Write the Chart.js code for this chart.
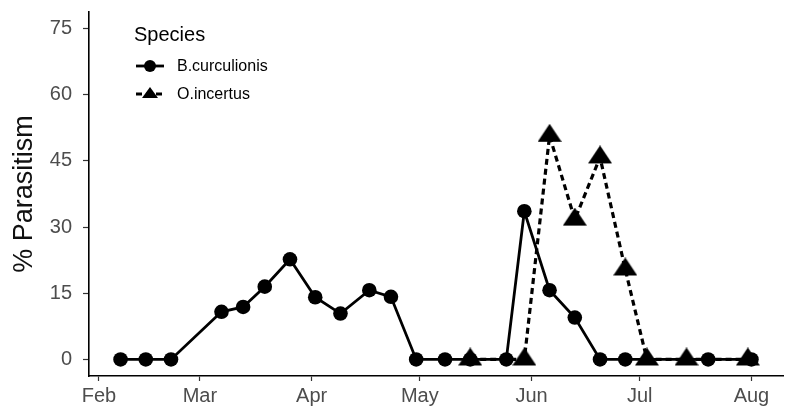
<!DOCTYPE html>
<html>
<head>
<meta charset="utf-8">
<script src="https://cdn.jsdelivr.net/npm/chart.js@4.4.1/dist/chart.umd.min.js"></script>
<style>
  html, body { margin: 0; padding: 0; background: #ffffff; }
  canvas { display: block; }
</style>
</head>
<body>
<canvas id="chart" width="791" height="408"></canvas>
<script>
// Month axis: labels and the first day of each month (MM-DD)
const monthLabels = ['Feb', 'Mar', 'Apr', 'May', 'Jun', 'Jul', 'Aug'];
const monthStarts = ['02-01', '03-01', '04-01', '05-01', '06-01', '07-01', '08-01'];

// Percent parasitism ticks
const yTicks = [0, 15, 30, 45, 60, 75];

// Bathyplectes curculionis samples
const bcDates = ['02-07', '02-14', '02-21', '03-07', '03-13', '03-19', '03-26', '04-02',
                 '04-09', '04-17', '04-23', '04-30', '05-08', '05-15', '05-25', '05-30',
                 '06-06', '06-13', '06-20', '06-27', '07-20', '08-01'];
const bcValues = [0, 0, 0, 10.8, 11.9, 16.5, 22.7, 14.1,
                  10.4, 15.7, 14.2, 0, 0, 0, 0, 33.6,
                  15.7, 9.5, 0, 0, 0, 0];

// Oomyzus incertus samples
const oiDates = ['05-15', '05-30', '06-06', '06-13', '06-20', '06-27', '07-03', '07-14', '07-31'];
const oiValues = [0, 0, 50.7, 31.7, 45.8, 20.4, 0, 0, 0];

const seriesNames = ['B.curculionis', 'O.incertus'];

// day of year (non-leap season)
const cumDays = [0, 31, 59, 90, 120, 151, 181, 212, 243, 273, 304, 334];
function dayOfYear(md) {
  const [m, d] = md.split('-').map(Number);
  return cumDays[m - 1] + d;
}
const monthDays = monthStarts.map(dayOfYear);

function toPoints(dates, values) {
  return dates.map((d, i) => ({ x: dayOfYear(d), y: values[i] }));
}

// Data extents padded by 5% on each side
const allDays = bcDates.concat(oiDates).map(dayOfYear);
const dMin = Math.min(...allDays), dMax = Math.max(...allDays);
const xPad = (dMax - dMin) * 0.05;
const yLo = 0, yHi = 75, yPad = (yHi - yLo) * 0.05;

// Filled triangle marker, a little wider than tall, centred on its centroid
function makeTriangle(w, h) {
  const c = document.createElement('canvas');
  c.width = w;
  c.height = Math.round(h * 4 / 3);
  const g = c.getContext('2d');
  g.fillStyle = '#000';
  g.beginPath();
  g.moveTo(w / 2, 0);
  g.lineTo(w, h);
  g.lineTo(0, h);
  g.closePath();
  g.fill();
  return c;
}
const triMarker = makeTriangle(24, 18);

const FONT = "'Liberation Sans', Arial, sans-serif";

// Legend drawn inside the panel, top-left
const speciesLegend = {
  id: 'speciesLegend',
  afterDraw(chart) {
    const ctx = chart.ctx;
    const ds = chart.data.datasets;
    ctx.save();
    ctx.fillStyle = '#000';
    ctx.textBaseline = 'middle';
    ctx.textAlign = 'left';
    ctx.font = '20px ' + FONT;
    ctx.fillText('Species', 134, 35);

    const rows = [66, 94];
    ds.forEach((d, i) => {
      const y = rows[i];
      ctx.strokeStyle = d.borderColor;
      ctx.lineWidth = d.borderWidth;
      ctx.setLineDash(d.borderDash || []);
      ctx.beginPath();
      ctx.moveTo(136, y);
      ctx.lineTo(164, y);
      ctx.stroke();
      ctx.setLineDash([]);
      ctx.fillStyle = '#000';
      ctx.beginPath();
      if (d.pointStyle === 'circle') {
        ctx.arc(150, y, 6, 0, Math.PI * 2);
      } else {
        ctx.moveTo(150, y - 7);
        ctx.lineTo(158, y + 4);
        ctx.lineTo(142, y + 4);
        ctx.closePath();
      }
      ctx.fill();
      ctx.font = '16px ' + FONT;
      ctx.fillText(d.label, 177, y + 1);
    });
    ctx.restore();
  }
};

new Chart(document.getElementById('chart'), {
  type: 'line',
  data: {
    datasets: [
      {
        label: seriesNames[0],
        data: toPoints(bcDates, bcValues),
        borderColor: '#000',
        backgroundColor: '#000',
        borderWidth: 2.8,
        pointStyle: 'circle',
        pointRadius: 7.3,
        pointBorderWidth: 0,
        pointBackgroundColor: '#000',
        tension: 0,
        order: 2
      },
      {
        label: seriesNames[1],
        data: toPoints(oiDates, oiValues),
        borderColor: '#000',
        backgroundColor: '#000',
        borderWidth: 3.2,
        borderDash: [6, 4],
        pointStyle: triMarker,
        pointRadius: 10,
        tension: 0,
        order: 1
      }
    ]
  },
  options: {
    responsive: false,
    animation: false,
    events: [],
    layout: { autoPadding: false, padding: { top: 12, right: 8, bottom: 0, left: 0 } },
    plugins: {
      legend: { display: false },
      tooltip: { enabled: false },
      title: { display: false }
    },
    scales: {
      x: {
        type: 'linear',
        min: dMin - xPad,
        max: dMax + xPad,
        afterBuildTicks(scale) {
          scale.ticks = monthDays.map(v => ({ value: v }));
        },
        afterFit(scale) {
          scale.height = 32;
          scale.paddingLeft = 0;
          scale.paddingRight = 0;
        },
        ticks: {
          autoSkip: false,
          maxRotation: 0,
          padding: 3,
          color: '#4d4d4d',
          font: { family: FONT, size: 20 },
          callback(v) {
            const i = monthDays.indexOf(v);
            return i >= 0 ? monthLabels[i] : '';
          }
        },
        grid: {
          display: true,
          drawOnChartArea: false,
          drawTicks: true,
          tickLength: 5,
          tickWidth: 1.2,
          tickColor: '#333'
        },
        border: { display: true, color: '#000', width: 1.6 }
      },
      y: {
        type: 'linear',
        min: yLo - yPad,
        max: yHi + yPad,
        afterBuildTicks(scale) {
          scale.ticks = yTicks.map(v => ({ value: v }));
        },
        afterFit(scale) {
          scale.width = 89;
          scale.paddingTop = 0;
          scale.paddingBottom = 0;
        },
        ticks: {
          autoSkip: false,
          padding: 11,
          color: '#4d4d4d',
          font: { family: FONT, size: 20 }
        },
        grid: {
          display: true,
          drawOnChartArea: false,
          drawTicks: true,
          tickLength: 6,
          tickWidth: 1.2,
          tickColor: '#333'
        },
        border: { display: true, color: '#000', width: 1.6 },
        title: {
          display: true,
          text: '% Parasitism',
          color: '#111',
          font: { family: FONT, size: 27 },
          padding: { top: 8, bottom: 0 }
        }
      }
    }
  },
  plugins: [speciesLegend]
});
</script>
</body>
</html>
